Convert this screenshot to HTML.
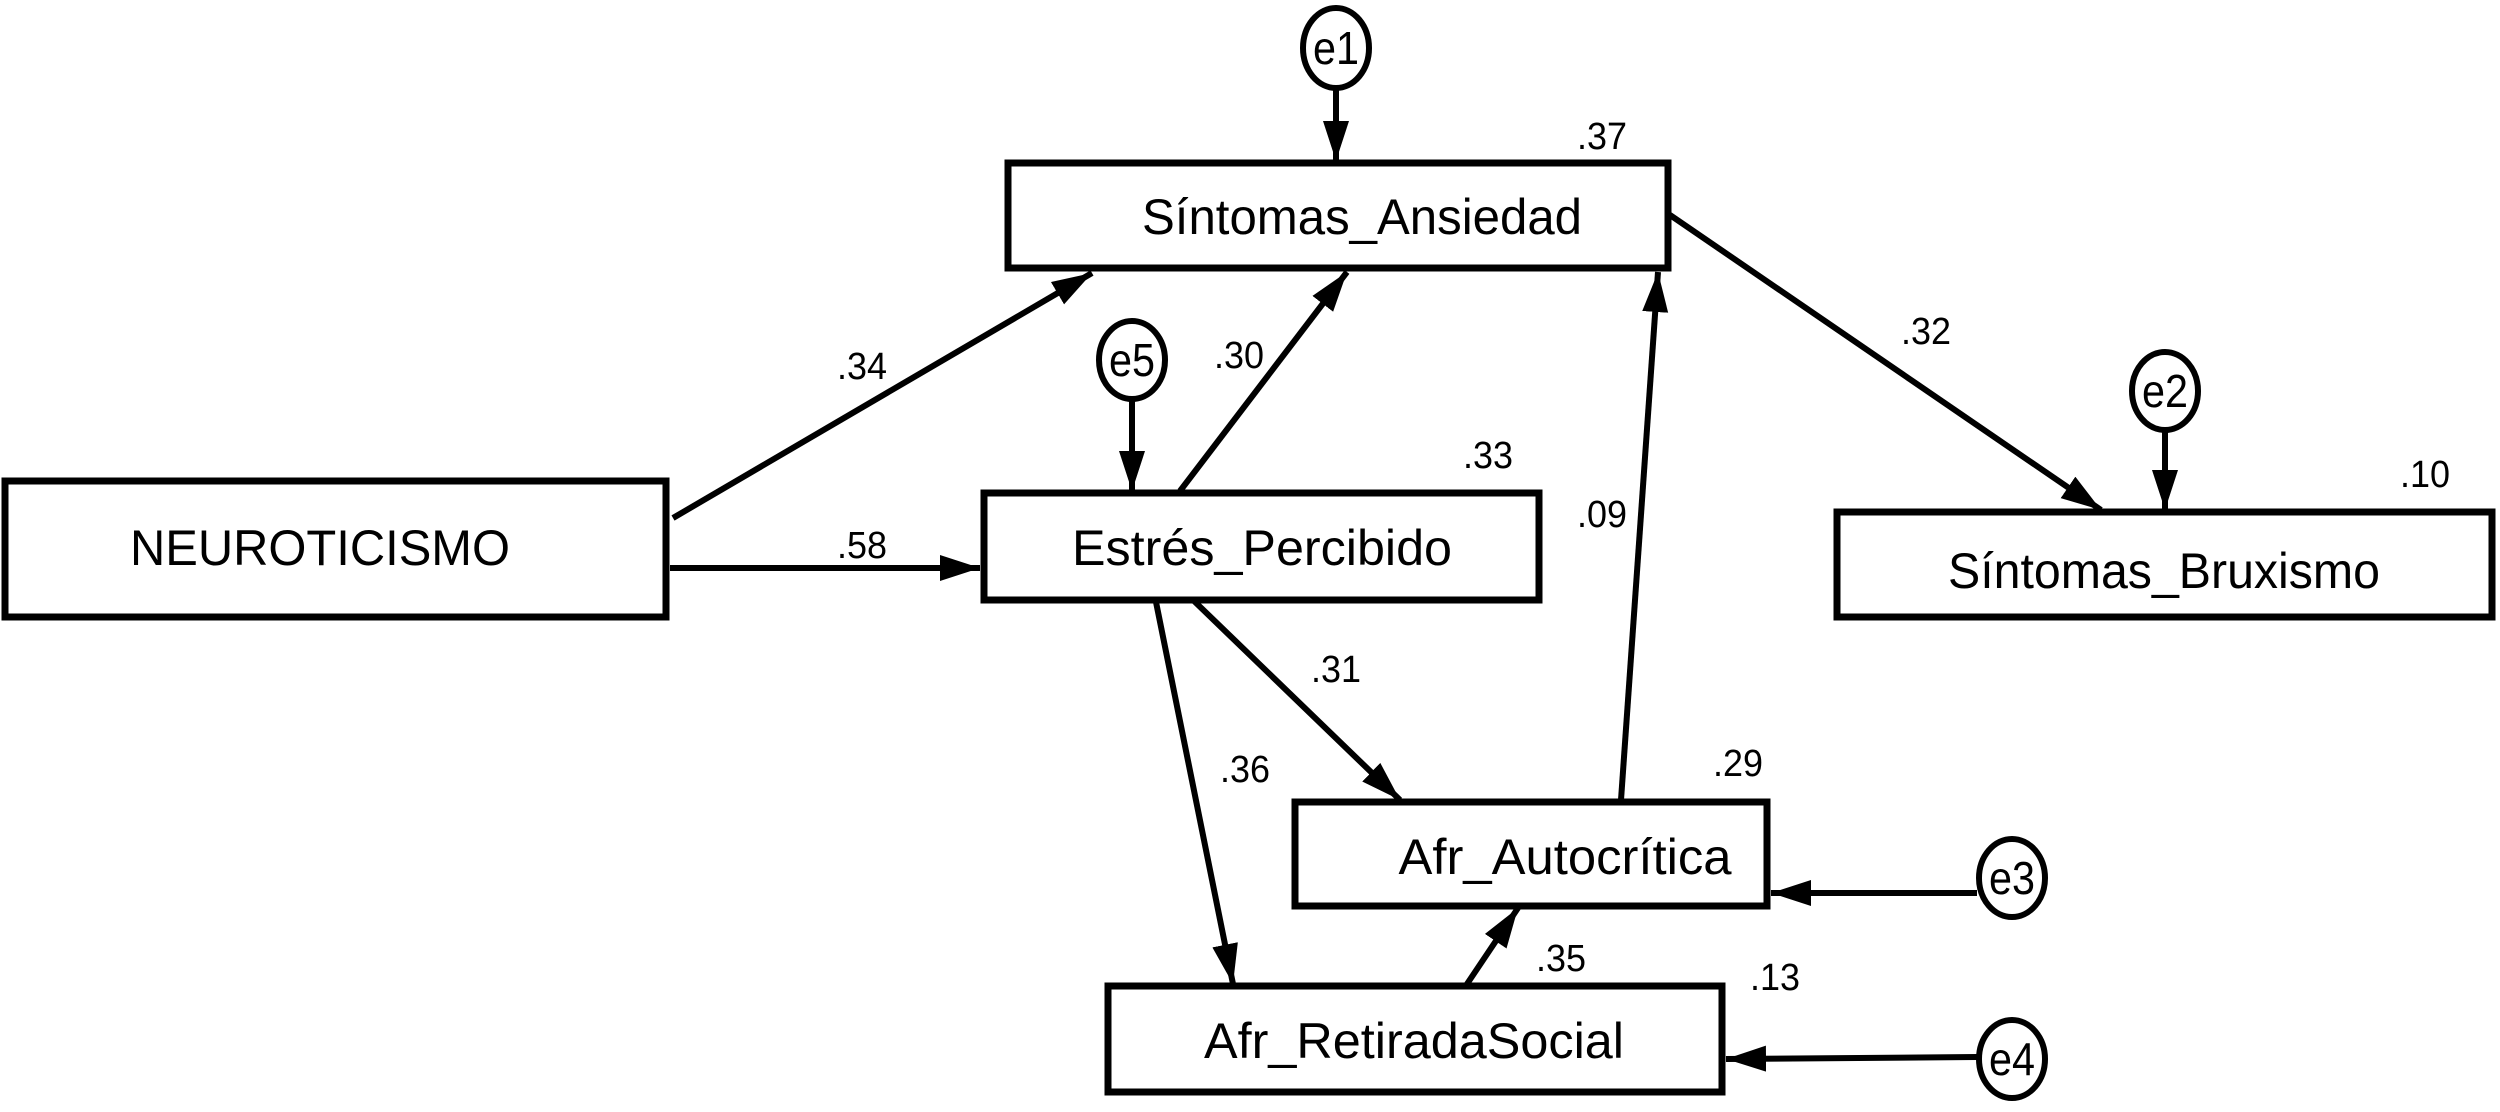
<!DOCTYPE html>
<html><head><meta charset="utf-8"><style>
html,body{margin:0;padding:0;background:#fff;}
svg{display:block;}
text{font-family:"Liberation Sans",sans-serif;fill:#000;}
</style></head><body>
<svg width="2500" height="1112" viewBox="0 0 2500 1112" xmlns="http://www.w3.org/2000/svg">
<defs>
<marker id="a" markerUnits="userSpaceOnUse" markerWidth="42" markerHeight="30" refX="40" refY="13" orient="auto">
<path d="M0,0 L40,13 L0,26 Z" fill="#000"/>
</marker>
</defs>
<g fill="#fff" stroke="#000" stroke-width="7">
<rect x="5" y="481" width="661" height="136"/>
<rect x="1008" y="163" width="660" height="105"/>
<rect x="984" y="493" width="555" height="107"/>
<rect x="1837" y="512" width="655" height="105"/>
<rect x="1295" y="802" width="472" height="104"/>
<rect x="1108" y="986" width="614" height="106"/>
</g>
<g fill="#fff" stroke="#000" stroke-width="6">
<ellipse cx="1336" cy="48" rx="33" ry="40"/>
<ellipse cx="1132" cy="360" rx="33" ry="39"/>
<ellipse cx="2165" cy="391" rx="33" ry="39"/>
<ellipse cx="2012" cy="878" rx="33" ry="39"/>
<ellipse cx="2012" cy="1059" rx="33" ry="39"/>
</g>
<g stroke="#000" stroke-width="6" fill="none" marker-end="url(#a)">
<line x1="673" y1="518" x2="1092" y2="273"/>
<line x1="670" y1="568" x2="980" y2="568"/>
<line x1="1180" y1="491" x2="1347" y2="272"/>
<line x1="1621" y1="800" x2="1658" y2="272"/>
<line x1="1670" y1="215" x2="2101" y2="510"/>
<line x1="1193" y1="600" x2="1400" y2="800"/>
<line x1="1156" y1="602" x2="1233" y2="984"/>
<line x1="1467" y1="984" x2="1518" y2="908"/>
<line x1="1977" y1="893" x2="1771" y2="893"/>
<line x1="1977" y1="1057" x2="1726" y2="1059"/>
<line x1="1336" y1="88" x2="1336" y2="161"/>
<line x1="1132" y1="399" x2="1132" y2="491"/>
<line x1="2165" y1="430" x2="2165" y2="510"/>
</g>
<g font-size="50" text-anchor="middle">
<text x="320" y="565" textLength="380" lengthAdjust="spacingAndGlyphs">NEUROTICISMO</text>
<text x="1362" y="234" textLength="440" lengthAdjust="spacingAndGlyphs">Síntomas_Ansiedad</text>
<text x="1262" y="565" textLength="380" lengthAdjust="spacingAndGlyphs">Estrés_Percibido</text>
<text x="2164" y="588" textLength="432" lengthAdjust="spacingAndGlyphs">Síntomas_Bruxismo</text>
<text x="1565" y="874" textLength="333" lengthAdjust="spacingAndGlyphs">Afr_Autocrítica</text>
<text x="1414" y="1058" textLength="420" lengthAdjust="spacingAndGlyphs">Afr_RetiradaSocial</text>
</g>
<g font-size="46" text-anchor="middle">
<text x="1336" y="64" textLength="46" lengthAdjust="spacingAndGlyphs">e1</text>
<text x="1132" y="376" textLength="46" lengthAdjust="spacingAndGlyphs">e5</text>
<text x="2165" y="407" textLength="46" lengthAdjust="spacingAndGlyphs">e2</text>
<text x="2012" y="894" textLength="46" lengthAdjust="spacingAndGlyphs">e3</text>
<text x="2012" y="1075" textLength="46" lengthAdjust="spacingAndGlyphs">e4</text>
</g>
<g font-size="38" text-anchor="middle">
<text x="1602" y="149" textLength="50" lengthAdjust="spacingAndGlyphs">.37</text>
<text x="1488" y="468" textLength="50" lengthAdjust="spacingAndGlyphs">.33</text>
<text x="2425" y="487" textLength="50" lengthAdjust="spacingAndGlyphs">.10</text>
<text x="862" y="379" textLength="50" lengthAdjust="spacingAndGlyphs">.34</text>
<text x="862" y="558" textLength="50" lengthAdjust="spacingAndGlyphs">.58</text>
<text x="1239" y="368" textLength="50" lengthAdjust="spacingAndGlyphs">.30</text>
<text x="1602" y="527" textLength="50" lengthAdjust="spacingAndGlyphs">.09</text>
<text x="1926" y="344" textLength="50" lengthAdjust="spacingAndGlyphs">.32</text>
<text x="1336" y="682" textLength="50" lengthAdjust="spacingAndGlyphs">.31</text>
<text x="1245" y="782" textLength="50" lengthAdjust="spacingAndGlyphs">.36</text>
<text x="1738" y="776" textLength="50" lengthAdjust="spacingAndGlyphs">.29</text>
<text x="1561" y="971" textLength="50" lengthAdjust="spacingAndGlyphs">.35</text>
<text x="1775" y="990" textLength="50" lengthAdjust="spacingAndGlyphs">.13</text>
</g>
</svg>
</body></html>
